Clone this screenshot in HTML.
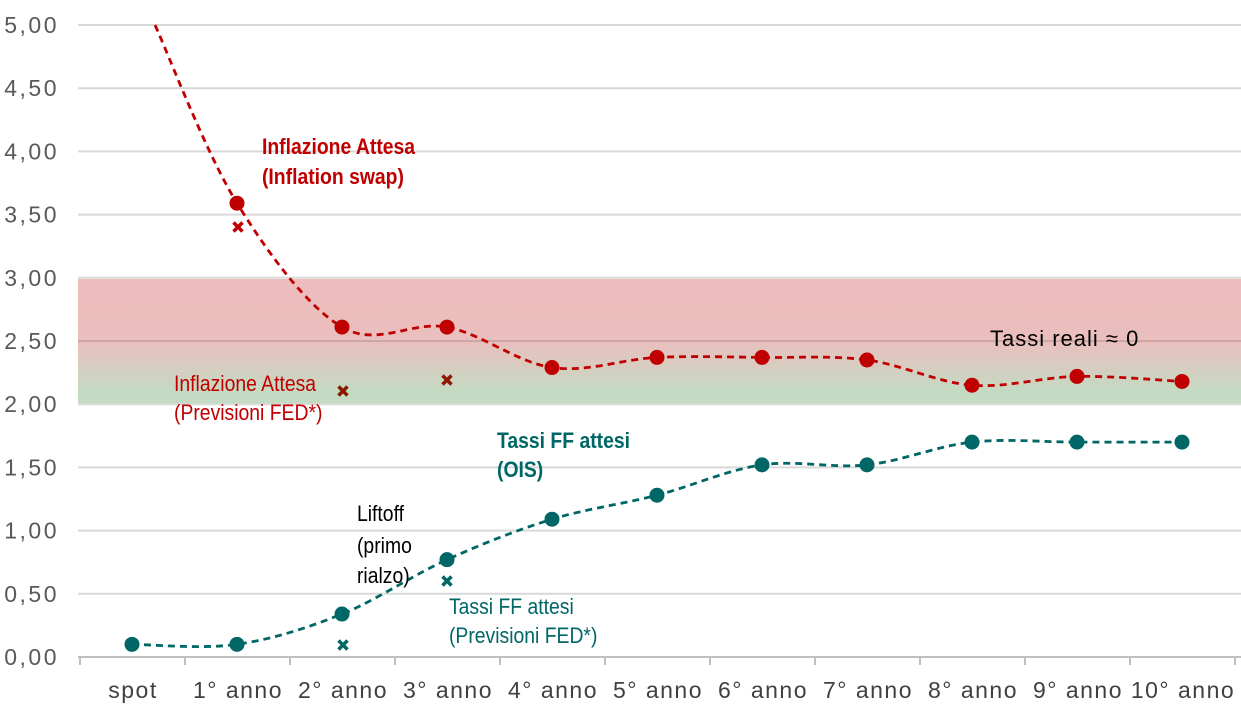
<!DOCTYPE html>
<html><head><meta charset="utf-8"><style>
body{margin:0;background:#fff}
svg{display:block}
text{font-family:"Liberation Sans Narrow","Liberation Sans",sans-serif}
</style></head><body>
<svg id="s" width="1241" height="707" xmlns="http://www.w3.org/2000/svg">
<defs>
<linearGradient id="g" x1="0" y1="0" x2="0" y2="1">
<stop offset="0" stop-color="#edbcbc"/><stop offset="0.5" stop-color="#eabfbd"/><stop offset="0.9" stop-color="#c3dbc3"/><stop offset="1" stop-color="#c3dbc3"/>
</linearGradient>
</defs>
<rect x="78" y="279" width="1163" height="126" fill="url(#g)"/>
<g id="grid" stroke="#d9d9d9" stroke-width="2"></g>
<line x1="78" y1="341" x2="1241" y2="341" stroke="#c0a0a0" stroke-width="1.5"/>
<g id="lab" font-size="23" fill="#595959" text-anchor="end" letter-spacing="2.5"></g>
<g id="xl" font-size="23" fill="#404040" text-anchor="middle" letter-spacing="1.5"></g>
<path id="rp" fill="none" stroke="#c00000" stroke-width="2.8" stroke-dasharray="7,5"/>
<path id="tp" fill="none" stroke="#006666" stroke-width="2.8" stroke-dasharray="7,5"/>
<g id="pts"></g>
<g id="ann" font-size="22">
<text class="c" x="262" y="154" fill="#c00000" font-weight="bold">Inflazione Attesa</text>
<text class="c" x="262" y="184" fill="#c00000" font-weight="bold">(Inflation swap)</text>
<text class="c" x="174" y="391" fill="#c00000">Inflazione Attesa</text>
<text class="c" x="174" y="420" fill="#c00000">(Previsioni FED*)</text>
<text class="c" x="497" y="448" fill="#006666" font-weight="bold">Tassi FF attesi</text>
<text class="c" x="497" y="477" fill="#006666" font-weight="bold">(OIS)</text>
<text class="c" x="357" y="521" fill="#000">Liftoff</text>
<text class="c" x="357" y="553" fill="#000">(primo</text>
<text class="c" x="357" y="583" fill="#000">rialzo)</text>
<text class="c" x="449" y="614" fill="#006666">Tassi FF attesi</text>
<text class="c" x="449" y="643" fill="#006666">(Previsioni FED*)</text>
<text x="990" y="346" fill="#000" letter-spacing="1">Tassi reali ≈ 0</text>
</g>
</svg>
<script>
var NS="http://www.w3.org/2000/svg";
function Y(v){return 657-v*126.4}
function X(i){return 132+i*105}
function el(p,t,a,txt){var e=document.createElementNS(NS,t);for(var k in a)e.setAttribute(k,a[k]);if(txt)e.textContent=txt;document.getElementById(p).appendChild(e);return e}
var labs=["0,00","0,50","1,00","1,50","2,00","2,50","3,00","3,50","4,00","4,50","5,00"];
for(var i=0;i<=10;i++){var y=Y(i*0.5);if(i>0&&i!=5)el("grid","line",{x1:78,x2:1241,y1:y,y2:y});el("lab","text",{x:59,y:y+8},labs[i]);}
el("grid","line",{x1:78,x2:1241,y1:657,y2:657,stroke:"#bfbfbf"});
for(var i=0;i<=11;i++){var x=80+i*105;el("grid","line",{x1:x,x2:x,y1:657,y2:665,stroke:"#bfbfbf"});}
var xn=["spot","1° anno","2° anno","3° anno","4° anno","5° anno","6° anno","7° anno","8° anno","9° anno","10° anno"];
xn.forEach(function(n,i){el("xl","text",{x:X(i)+1,y:698},n)});
function cr(P){var d="M"+P[0][0]+","+P[0][1];for(var i=0;i<P.length-1;i++){var p0=P[i-1]||P[i],p1=P[i],p2=P[i+1],p3=P[i+2]||p2;var t=6;d+=" C"+(p1[0]+(p2[0]-p0[0])/t)+","+(p1[1]+(p2[1]-p0[1])/t)+" "+(p2[0]-(p3[0]-p1[0])/t)+","+(p2[1]-(p3[1]-p1[1])/t)+" "+p2[0]+","+p2[1];}return d}
var r=[3.59,2.61,2.61,2.29,2.37,2.37,2.35,2.15,2.22,2.18];
var rP=[[155,25]];r.forEach(function(v,i){rP.push([X(i+1),Y(v)])});
document.getElementById("rp").setAttribute("d",cr(rP));
var t=[0.10,0.10,0.34,0.77,1.09,1.28,1.52,1.52,1.70,1.70,1.70];
var tP=t.map(function(v,i){return [X(i),Y(v)]});
document.getElementById("tp").setAttribute("d",cr(tP));
rP.slice(1).forEach(function(p){el("pts","circle",{cx:p[0],cy:p[1],r:7.5,fill:"#c00000"})});
tP.forEach(function(p){el("pts","circle",{cx:p[0],cy:p[1],r:7.5,fill:"#006666"})});
function xm(x,y,c){el("pts","path",{d:"M"+(x-4.5)+","+(y-4.5)+"L"+(x+4.5)+","+(y+4.5)+"M"+(x+4.5)+","+(y-4.5)+"L"+(x-4.5)+","+(y+4.5),stroke:c,"stroke-width":3.5})}
xm(238,227,"#c00000");xm(343,391,"#8b1a00");xm(447,380,"#8b1a00");xm(343,645,"#006666");xm(447,581,"#006666");
document.querySelectorAll("text.c").forEach(function(e){var x=+e.getAttribute("x");e.setAttribute("transform","translate("+x+",0) scale(0.88,1) translate("+(-x)+",0)");});
</script>
</body></html>
